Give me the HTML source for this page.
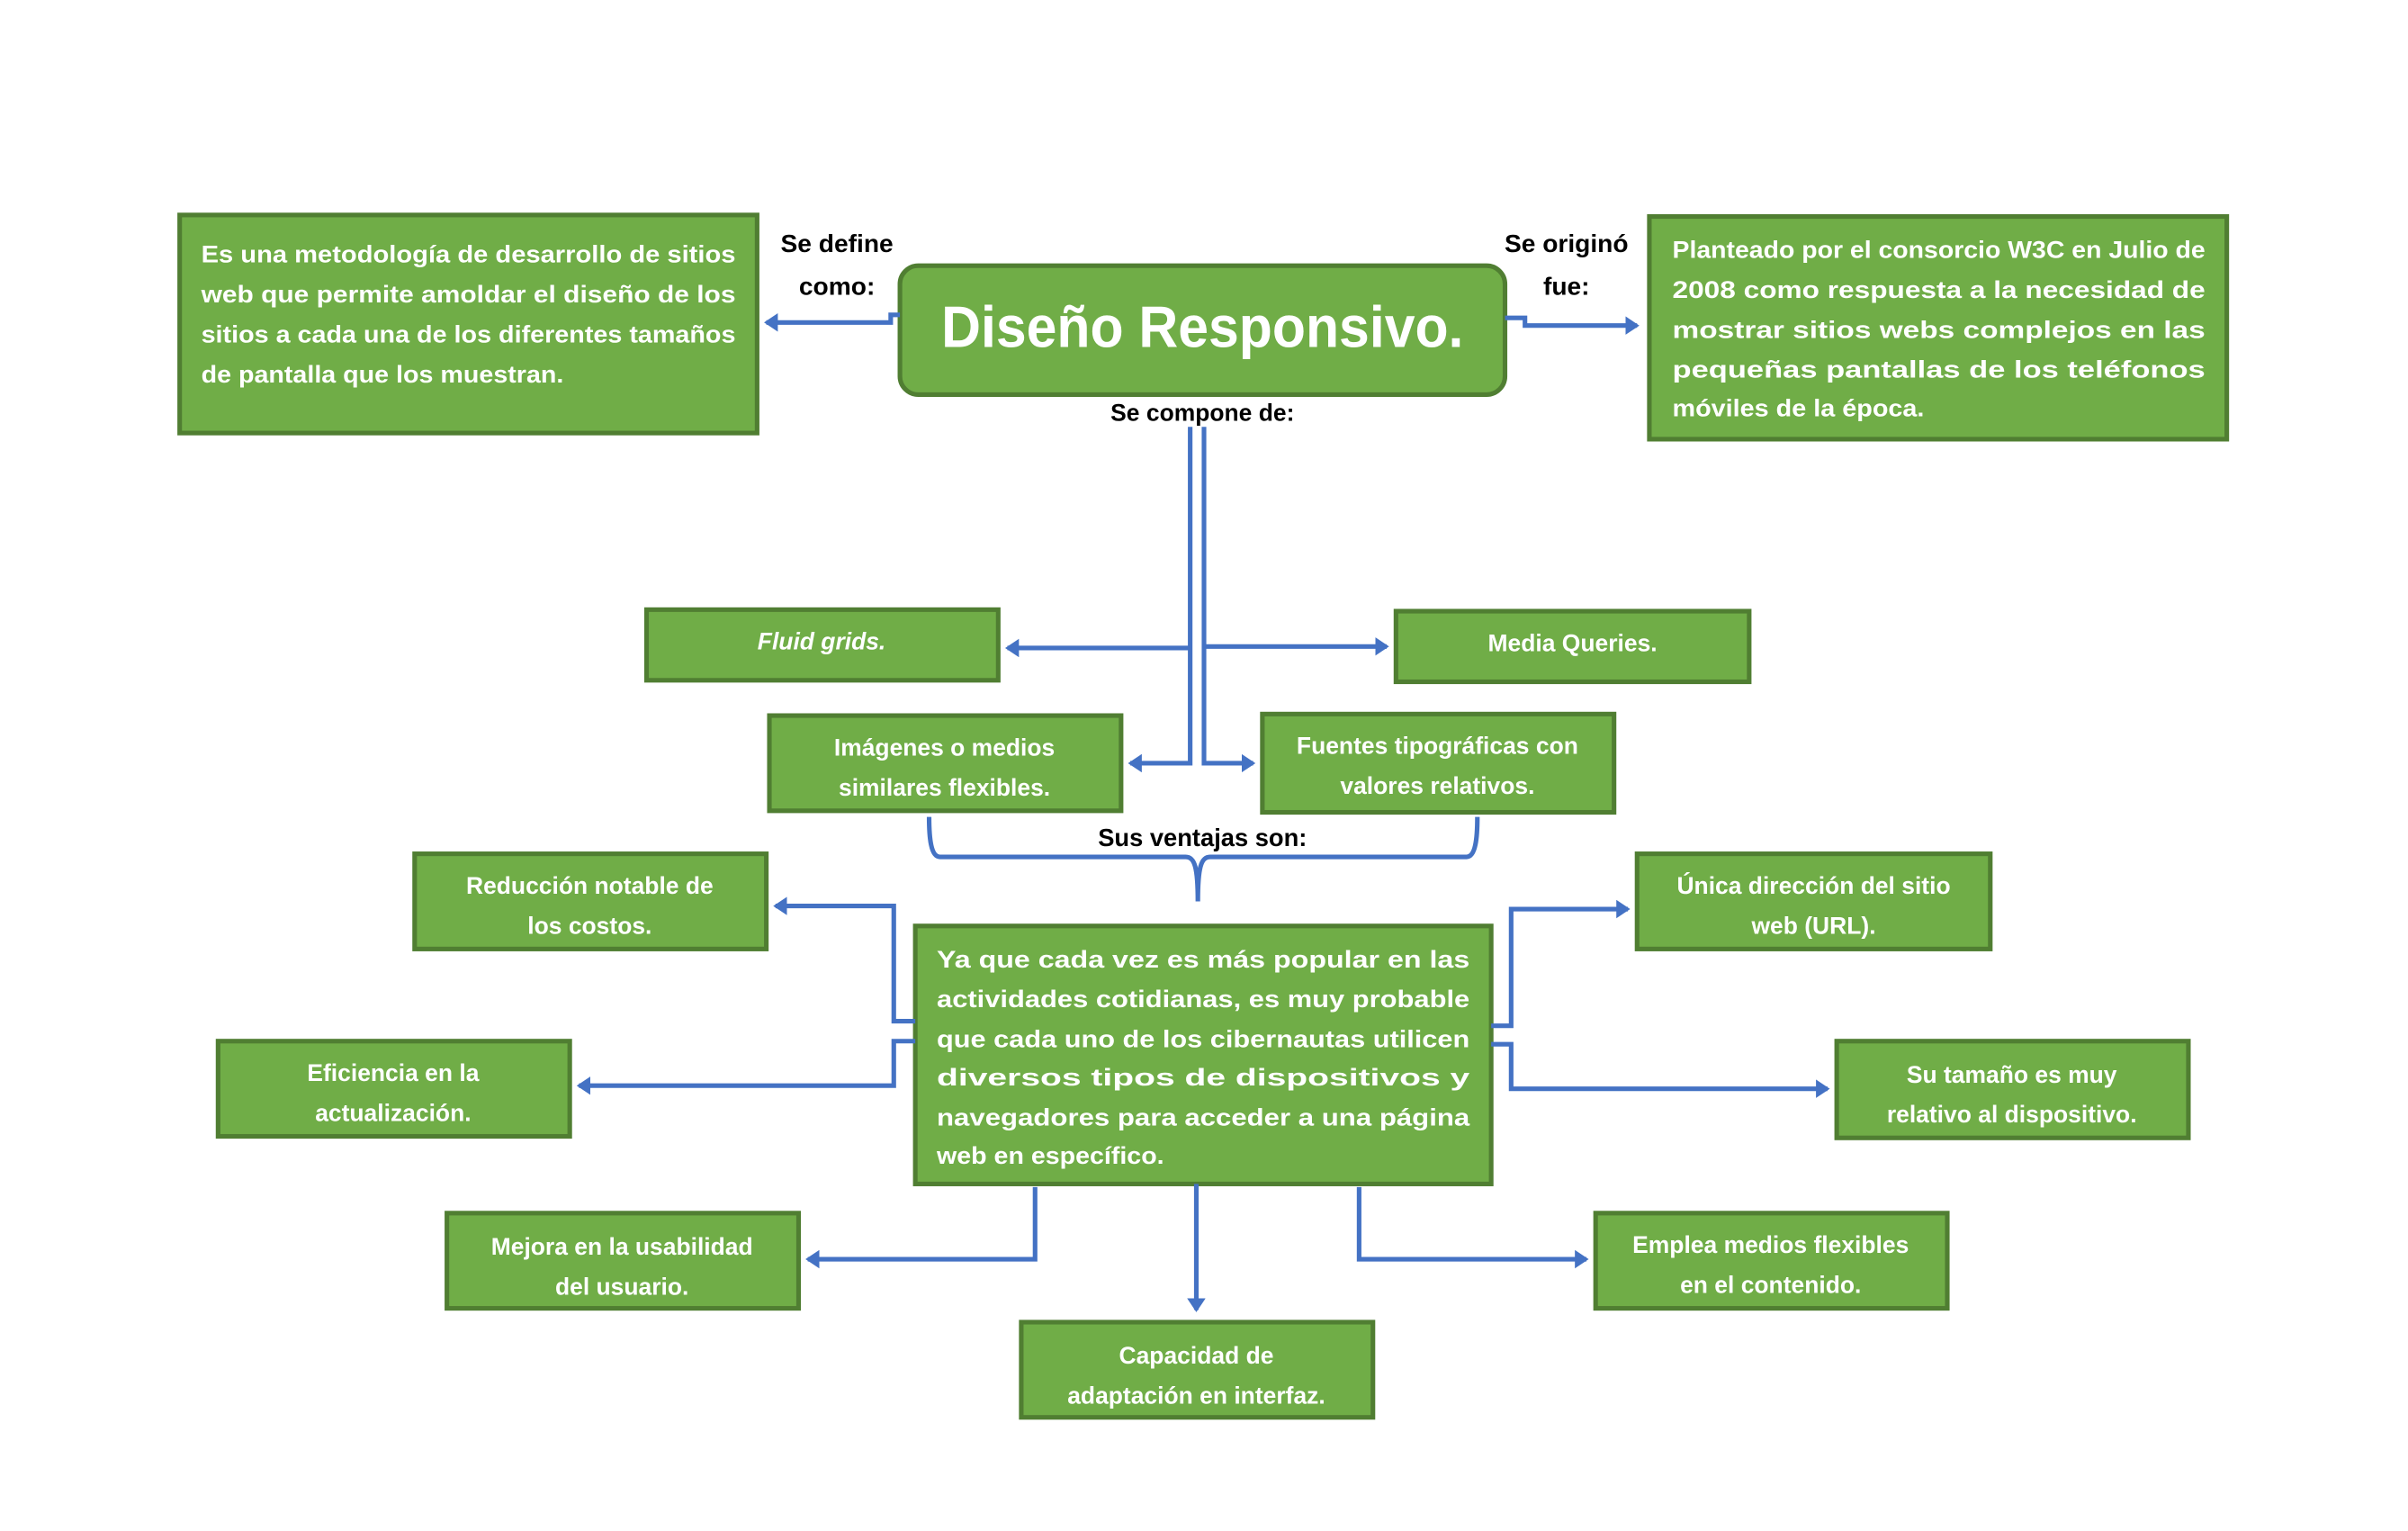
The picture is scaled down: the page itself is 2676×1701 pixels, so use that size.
<!DOCTYPE html>
<html><head><meta charset="utf-8"><style>
html,body{margin:0;padding:0;background:#fff;}
svg{display:block;}
text{font-family:"Liberation Sans",sans-serif;font-weight:bold;}
.w{fill:#fff;font-size:15.5px;}
.c{text-anchor:middle;}
.k{fill:#000;font-size:16.5px;}
.b{fill:#70ad47;stroke:#507e32;stroke-width:3;}
.l{fill:none;stroke:#4472c4;stroke-width:3;}
</style></head><body>
<svg width="2676" height="1701" viewBox="0 0 1568 997" preserveAspectRatio="none" xmlns="http://www.w3.org/2000/svg">
<defs><marker id="a" markerWidth="4" markerHeight="4" refX="2.5" refY="2" orient="auto"><path d="M0,0 L3,2 L0,4z" fill="#4472c4"/></marker></defs>
<rect class="b" x="117" y="140" width="376" height="142"/>
<g class="w">
<text x="131" y="171" textLength="348" lengthAdjust="spacingAndGlyphs">Es una metodología de desarrollo de sitios</text>
<text x="131" y="197" textLength="348" lengthAdjust="spacingAndGlyphs">web que permite amoldar el diseño de los</text>
<text x="131" y="223" textLength="348" lengthAdjust="spacingAndGlyphs">sitios a cada una de los diferentes tamaños</text>
<text x="131" y="249" textLength="236" lengthAdjust="spacingAndGlyphs">de pantalla que los muestran.</text>
</g>
<text class="k c" x="545" y="164">Se define</text>
<text class="k c" x="545" y="192">como:</text>
<text class="k c" x="1020" y="164">Se originó</text>
<text class="k c" x="1020" y="192">fue:</text>
<rect class="b" x="586" y="173" width="394" height="84" rx="12"/>
<text x="783" y="226" class="c" fill="#fff" style="font-size:38px" textLength="340" lengthAdjust="spacingAndGlyphs">Diseño Responsivo.</text>
<path class="l" d="M586,205 H580 V210 H499" marker-end="url(#a)"/>
<path class="l" d="M980,207 H993 V212 H1066" marker-end="url(#a)"/>
<rect class="b" x="1074" y="141" width="376" height="145"/>
<g class="w">
<text x="1089" y="168" textLength="347" lengthAdjust="spacingAndGlyphs">Planteado por el consorcio W3C en Julio de</text>
<text x="1089" y="194" textLength="347" lengthAdjust="spacingAndGlyphs">2008  como  respuesta  a  la  necesidad  de</text>
<text x="1089" y="220" textLength="347" lengthAdjust="spacingAndGlyphs">mostrar   sitios   webs   complejos   en   las</text>
<text x="1089" y="246" textLength="347" lengthAdjust="spacingAndGlyphs">pequeñas    pantallas    de    los    teléfonos</text>
<text x="1089" y="271" textLength="164" lengthAdjust="spacingAndGlyphs">móviles de la época.</text>
</g>
<text class="k c" x="783" y="274" style="font-size:15.5px">Se compone de:</text>
<path class="l" d="M775,278 V497 H736" marker-end="url(#a)"/>
<path class="l" d="M784,278 V497 H816" marker-end="url(#a)"/>
<path class="l" d="M775,422 H656" marker-end="url(#a)"/>
<path class="l" d="M784,421 H903" marker-end="url(#a)"/>
<rect class="b" x="421" y="397" width="229" height="46"/>
<text class="w c" x="535" y="423" font-style="italic">Fluid grids.</text>
<rect class="b" x="909" y="398" width="230" height="46"/>
<text class="w c" x="1024" y="424">Media Queries.</text>
<rect class="b" x="501" y="466" width="229" height="62"/>
<text class="w c" x="615" y="492">Imágenes o medios</text>
<text class="w c" x="615" y="518">similares flexibles.</text>
<rect class="b" x="822" y="465" width="229" height="64"/>
<text class="w c" x="936" y="491">Fuentes tipográficas con</text>
<text class="w c" x="936" y="517">valores relativos.</text>
<path class="l" d="M605,532 C605,545 606,558 612,558 H772 C778,558 780,565 780,587 M780,587 C780,565 782,558 788,558 H955 C961,558 962,545 962,532"/>
<text class="k c" x="783" y="551" style="font-size:16px">Sus ventajas son:</text>
<rect class="b" x="596" y="603" width="375" height="168"/>
<g class="w">
<text x="610" y="630" textLength="347" lengthAdjust="spacingAndGlyphs">Ya  que  cada  vez  es  más  popular  en  las</text>
<text x="610" y="656" textLength="347" lengthAdjust="spacingAndGlyphs">actividades  cotidianas,  es  muy  probable</text>
<text x="610" y="682" textLength="347" lengthAdjust="spacingAndGlyphs">que cada uno de los cibernautas utilicen</text>
<text x="610" y="707" textLength="347" lengthAdjust="spacingAndGlyphs">diversos      tipos      de      dispositivos      y</text>
<text x="610" y="733" textLength="347" lengthAdjust="spacingAndGlyphs">navegadores  para  acceder  a  una  página</text>
<text x="610" y="758" textLength="148" lengthAdjust="spacingAndGlyphs">web en específico.</text>
</g>
<path class="l" d="M596,665 H582 V590 H505" marker-end="url(#a)"/>
<path class="l" d="M596,678 H582 V707 H377" marker-end="url(#a)"/>
<path class="l" d="M971,668 H984 V592 H1060" marker-end="url(#a)"/>
<path class="l" d="M971,680 H984 V709 H1190" marker-end="url(#a)"/>
<path class="l" d="M674,773 V820 H526" marker-end="url(#a)"/>
<path class="l" d="M885,773 V820 H1033" marker-end="url(#a)"/>
<path class="l" d="M779,771 V853" marker-end="url(#a)"/>
<rect class="b" x="270" y="556" width="229" height="62"/>
<text class="w c" x="384" y="582">Reducción notable de</text>
<text class="w c" x="384" y="608">los costos.</text>
<rect class="b" x="142" y="678" width="229" height="62"/>
<text class="w c" x="256" y="704">Eficiencia en la</text>
<text class="w c" x="256" y="730">actualización.</text>
<rect class="b" x="1066" y="556" width="230" height="62"/>
<text class="w c" x="1181" y="582">Única dirección del sitio</text>
<text class="w c" x="1181" y="608">web (URL).</text>
<rect class="b" x="1196" y="678" width="229" height="63"/>
<text class="w c" x="1310" y="705">Su tamaño es muy</text>
<text class="w c" x="1310" y="731">relativo al dispositivo.</text>
<rect class="b" x="291" y="790" width="229" height="62"/>
<text class="w c" x="405" y="817">Mejora en la usabilidad</text>
<text class="w c" x="405" y="843">del usuario.</text>
<rect class="b" x="1039" y="790" width="229" height="62"/>
<text class="w c" x="1153" y="816">Emplea medios flexibles</text>
<text class="w c" x="1153" y="842">en el contenido.</text>
<rect class="b" x="665" y="861" width="229" height="62"/>
<text class="w c" x="779" y="888">Capacidad de</text>
<text class="w c" x="779" y="914">adaptación en interfaz.</text>
</svg>
</body></html>
